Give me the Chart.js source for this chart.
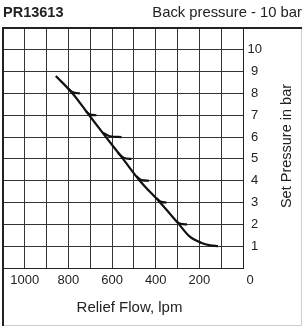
<!DOCTYPE html>
<html>
<head>
<meta charset="utf-8">
<script src="https://cdn.jsdelivr.net/npm/chart.js@4/dist/chart.umd.min.js"></script>
<style>
html,body{margin:0;padding:0;background:#fff}
#chart{position:absolute;left:0;top:0}
</style>
</head>
<body>
<canvas id="chart" width="303" height="327"></canvas>
<script>
// relief valve curve, flow in lpm vs set pressure in bar
let mainFlow = [115,150,190,245,293,380,473,550,628,705,781,858]
let mainPressure = [1.0,1.04,1.15,1.45,2,3,4,5,6,7,8,8.8]

// knee curves at each set pressure
let branchFlow = [
[748,780,805],
[672,700,722],
[557,610,643],
[511,545,573],
[431,465,488],
[351,375,397],
[257,285,305]
]
let branchPressure = [
[8,8.05,8.25],
[7,7.03,7.2],
[6,6.04,6.2],
[5,5.04,5.28],
[4,4.03,4.2],
[3,3.03,3.2],
[2,2.02,2.14]
]

let xTickLabels = [0,200,400,600,800,1000]
let yTickLabels = [1,2,3,4,5,6,7,8,9,10]

let codeLabel = "PR13613"
let headLabel = "Back pressure - 10 bar"
let xTitle = "Relief Flow, lpm"
let yTitle = "Set Pressure in bar"

Chart.defaults.font.family = "'Liberation Sans', Arial, sans-serif"
Chart.defaults.color = "#222"

function toPoints(xs, ys){
return xs.map((x,i)=>({x:x, y:ys[i]}))
}

let datasets = [{
data: toPoints(mainFlow, mainPressure),
borderColor: "#111",
borderWidth: 2.2,
pointRadius: 0,
showLine: true,
fill: false,
cubicInterpolationMode: "monotone"
}]

branchFlow.forEach((f,i)=>{
datasets.push({
data: toPoints(f, branchPressure[i]),
borderColor: "#111",
borderWidth: 2.2,
pointRadius: 0,
showLine: true,
fill: false,
cubicInterpolationMode: "monotone"
})
})

let extraText = {
id: "extraText",
afterDraw(chart){
let c = chart.ctx
let a = chart.chartArea
c.save()
// outer frame
c.strokeStyle = "#ccc"
c.lineWidth = 1
c.beginPath()
c.moveTo(301.5, a.top)
c.lineTo(301.5, 325.5)
c.lineTo(a.left, 325.5)
c.stroke()
c.strokeStyle = "#222"
c.lineWidth = 2
c.beginPath()
c.moveTo(a.left, 326)
c.lineTo(a.left, a.top)
c.lineTo(302, a.top)
c.stroke()

c.fillStyle = "#222"
c.textBaseline = "alphabetic"
c.textAlign = "left"
c.font = "bold 14.5px 'Liberation Sans'"
c.fillText(codeLabel, 3, 17)
c.textAlign = "right"
c.font = "14.8px 'Liberation Sans'"
c.fillText(headLabel, 302, 17)

c.textAlign = "center"
c.font = "15px 'Liberation Sans'"
c.fillText(xTitle, 129.5, 311.5)

c.translate(a.right + 44, (a.top + a.bottom) / 2 - 2)
c.rotate(-Math.PI / 2)
c.textBaseline = "middle"
c.font = "14.5px 'Liberation Sans'"
c.fillText(yTitle, 0, 0)
c.restore()
}
}

let ctx = document.getElementById("chart")

new Chart(ctx,{
type: "scatter",
data: {datasets: datasets},
options: {
responsive: false,
animation: false,
devicePixelRatio: 1,
layout: {padding: {left: 3, top: 28, right: 0, bottom: 0}},
plugins: {legend: {display: false}, tooltip: {enabled: false}},
scales: {
x: {
type: "linear",
reverse: true,
min: 0,
max: 1100,
position: "bottom",
afterFit(s){ s.height = 59; s.paddingLeft = 0; s.paddingRight = 0 },
border: {color: "#222", width: 1},
grid: {color: "#333", lineWidth: 1, drawTicks: false},
ticks: {
stepSize: 100,
autoSkip: false,
maxRotation: 0,
padding: 5,
font: {size: 13},
// the 0 label sits a little right of the axis end in the original
callback: v => v === 0 ? "\u2007\u20070" : (xTickLabels.includes(v) ? String(v) : "")
}
},
y: {
type: "linear",
min: 0,
max: 11,
position: "right",
afterFit(s){ s.width = 60; s.paddingTop = 0; s.paddingBottom = 0 },
border: {color: "#222", width: 1},
grid: {color: "#333", lineWidth: 1, drawTicks: false},
ticks: {
stepSize: 1,
autoSkip: false,
padding: 4.5,
crossAlign: "center",
font: {size: 13},
callback: v => yTickLabels.includes(v) ? String(v) : ""
}
}
}
},
plugins: [extraText]
})
</script>
</body>
</html>
